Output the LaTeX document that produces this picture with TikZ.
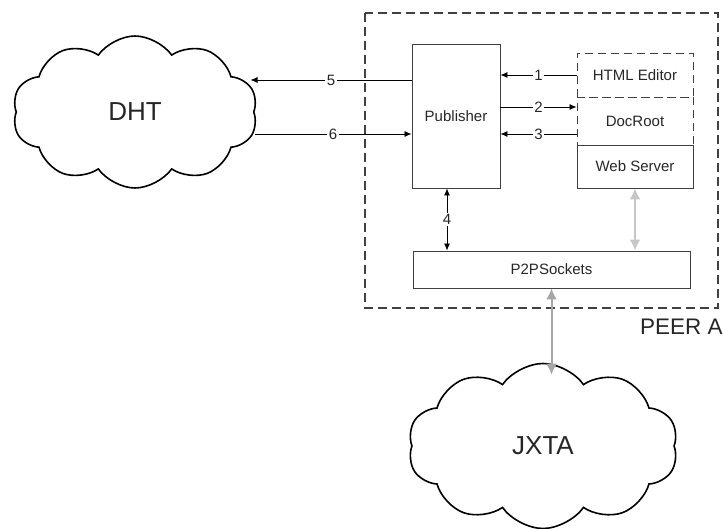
\documentclass[tikz,border=0pt]{standalone}
\usepackage{fontspec}
\setmainfont{Liberation Sans}
\usetikzlibrary{shapes.symbols,arrows.meta}

\begin{document}
\begin{tikzpicture}[x=1pt,y=-1pt,
    box/.style={draw=black!75,line width=0.9pt,inner sep=0pt,text=black!85,font=\fontsize{15}{18}\selectfont},
    dbox/.style={box,dash pattern=on 8pt off 5pt},
    link/.style={line width=0.8pt,-{Latex[length=7pt,width=6pt]}},
    link2/.style={line width=0.8pt,{Latex[length=7pt,width=6pt]}-{Latex[length=7pt,width=6pt]}},
    glink/.style={line width=2pt,{Latex[length=11pt,width=11pt]}-{Latex[length=11pt,width=11pt]}},
    num/.style={fill=white,inner sep=1.5pt,text=black!85,font=\fontsize{15}{18}\selectfont},
    cloudy/.style={cloud,draw,line width=1.6pt,cloud puffs=10,cloud puff arc=110,cloud ignores aspect,inner sep=0pt,text=black!85,font=\fontsize{26}{30}\selectfont}]

    \useasboundingbox (0,0) rectangle (723,529);

    %peer box:
    \draw[black!75,line width=1.3pt,dash pattern=on 9pt off 5pt] (365,13) rectangle (718,308);
    \node[anchor=west,inner sep=0pt,text=black!85,font=\fontsize{22.5}{26}\selectfont] (peer) at (640,327) {PEER A};

    %boxes:
    \node[box,minimum width=88pt,minimum height=144pt] (pub) at (456,116) {Publisher};
    \node[dbox,minimum width=116pt,minimum height=44pt] (html) at (635,75) {HTML Editor};
    \node[dbox,minimum width=116pt,minimum height=48pt] (doc) at (635,121) {DocRoot};
    \node[box,minimum width=116pt,minimum height=43pt] (web) at (635,166.5) {Web Server};
    \node[box,minimum width=277pt,minimum height=37pt] (p2p) at (551.5,269.5) {P2PSockets};

    %clouds:
    \node[cloudy,minimum width=245pt,minimum height=152pt] (dht) at (135,112) {DHT};
    \node[cloudy,minimum width=270pt,minimum height=165pt] (jxta) at (543,446) {JXTA};

    %arrows inside the peer:
    \coordinate (d2) at ([yshift=14pt]doc.west);
    \coordinate (d3) at ([yshift=-13pt]doc.west);
    \draw[link] (html.west) -- node[num]{1} (html.west -| pub.east);
    \draw[link] (d2 -| pub.east) -- node[num]{2} (d2);
    \draw[link] (d3) -- node[num]{3} (d3 -| pub.east);
    \coordinate (p4) at ([xshift=-9pt]pub.south);
    \draw[link2] (p4) -- node[num]{4} (p4 |- p2p.north);
    \draw[glink,black!22] (web.south) -- (web.south |- p2p.north);

    %arrows to the clouds:
    \coordinate (p5) at ([yshift=36pt]pub.west);
    \coordinate (p6) at ([yshift=-18pt]pub.west);
    \draw[link] (p5) -- node[num]{5} ([xshift=-4pt]p5 -| dht.east);
    \draw[link] (p6 -| dht.east) -- node[num]{6} (p6);
    \coordinate (jtop) at ([yshift=-12pt]jxta.north);
    \draw[glink,black!35] (p2p.south) -- (p2p.south |- jtop);

\end{tikzpicture}
\end{document}
